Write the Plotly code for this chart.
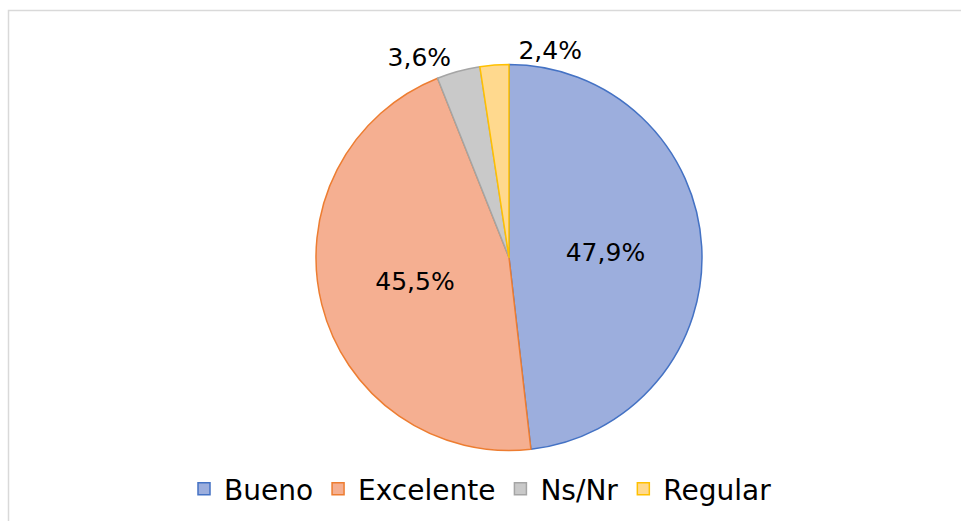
import plotly.graph_objects as go

labels = ["Bueno", "Excelente", "Ns/Nr", "Regular"]
values = [47.9, 45.5, 3.6, 2.4]
fill_colors = ["#9CAEDD", "#F5AF91", "#C9C9C9", "#FFD98E"]
line_colors = ["#4472C4", "#ED7D31", "#A5A5A5", "#FFC000"]

texts = [f"{v:.1f}%".replace(".", ",") for v in values]

W, H = 961, 521
cx, cy, R = 509, 257.5, 193
domain = dict(x=[(cx - R) / W, (cx + R) / W], y=[(H - cy - R) / H, (H - cy + R) / H])
label_font = dict(family="DejaVu Sans, sans-serif", size=25, color="#000000")
legend_font = dict(family="DejaVu Sans, sans-serif", size=28, color="#000000")

fig = go.Figure()
# main pie: slice labels except the Regular one
fig.add_trace(go.Pie(
    labels=labels,
    values=values,
    text=texts,
    textinfo="text",
    textposition=["inside", "inside", "outside", "none"],
    insidetextorientation="horizontal",
    sort=False,
    direction="clockwise",
    rotation=0,
    marker=dict(colors=fill_colors, line=dict(color=line_colors, width=1.5)),
    textfont=label_font,
    domain=domain,
    hoverinfo="label+text",
))
# transparent twin pie carrying only the Regular label, nudged so it sits
# to the right of the Ns/Nr label without a leader line
fig.add_trace(go.Pie(
    labels=labels,
    values=values,
    text=texts,
    textinfo="text",
    textposition=["none", "none", "none", "outside"],
    sort=False,
    direction="clockwise",
    rotation=5,
    marker=dict(colors=["rgba(0,0,0,0)"] * 4, line=dict(width=0)),
    textfont=label_font,
    domain=domain,
    showlegend=False,
    hoverinfo="skip",
))

fig.update_layout(
    width=W, height=H,
    margin=dict(l=0, r=0, t=0, b=0),
    paper_bgcolor="white",
    showlegend=True,
    legend=dict(
        orientation="h", x=0.5, xanchor="center", y=(H - 489) / H, yanchor="middle",
        font=legend_font, itemwidth=30, traceorder="normal",
    ),
    shapes=[dict(type="rect", xref="paper", yref="paper",
                 x0=8.5 / W, x1=1.02, y0=-0.02, y1=(H - 10.5) / H,
                 line=dict(color="#D9D9D9", width=1.5), fillcolor="rgba(0,0,0,0)", layer="below")],
)

fig.write_html("out.html", config={"displayModeBar": False},
               post_script="document.body.style.margin='0';")
